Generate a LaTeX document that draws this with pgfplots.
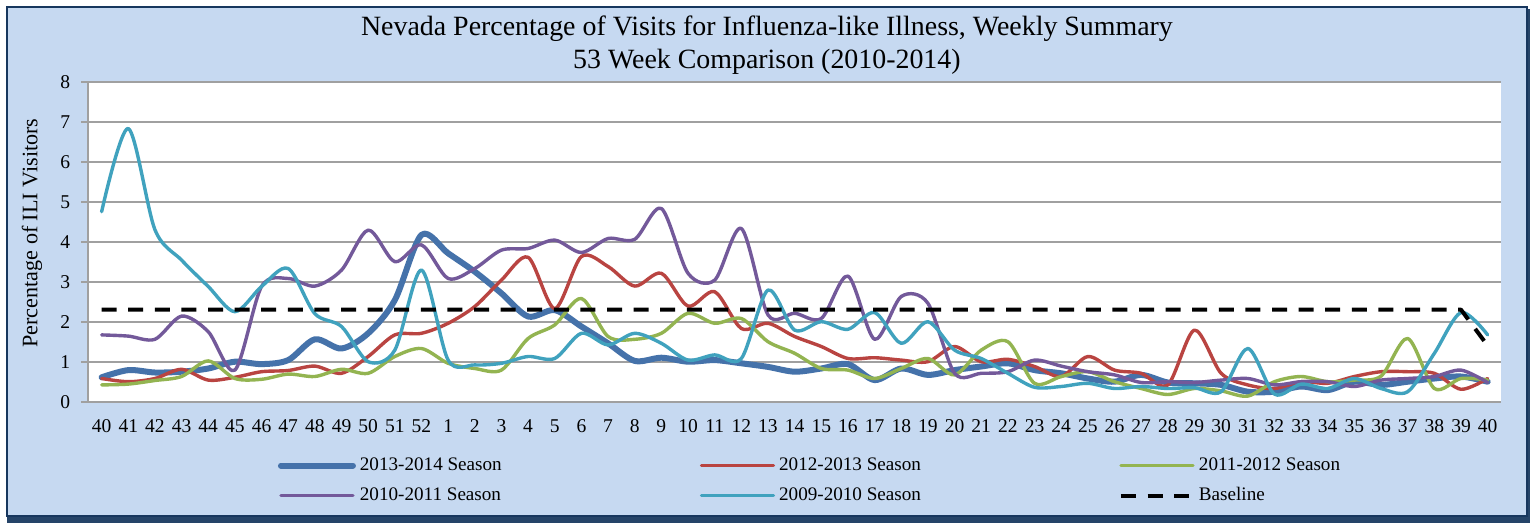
\documentclass[border=0pt]{standalone}
\usepackage{fontspec}
\setmainfont{Liberation Serif}
\usepackage{pgfplots}
\usepackage{pgfplotstable}
\pgfplotsset{compat=1.18}
\definecolor{cBlue}{HTML}{4572AA}
\definecolor{cRed}{HTML}{B94441}
\definecolor{cGreen}{HTML}{93B451}
\definecolor{cPurple}{HTML}{73599A}
\definecolor{cTeal}{HTML}{40A2BE}
\definecolor{bgBlue}{HTML}{C6D9F1}
\definecolor{frameNavy}{HTML}{17375E}
\definecolor{shadowNavy}{HTML}{254468}
\definecolor{gridGray}{HTML}{A0A0A0}

\pgfplotstableread{
x blue red green purple teal base
0  0.61 0.58 0.42 1.67 4.75 2.3
1  0.79 0.50 0.44 1.64 6.83 2.3
2  0.73 0.58 0.53 1.56 4.30 2.3
3  0.75 0.81 0.63 2.14 3.54 2.3
4  0.83 0.54 1.02 1.75 2.88 2.3
5  1.00 0.61 0.58 0.79 2.25 2.3
6  0.94 0.75 0.56 2.88 2.88 2.3
7  1.04 0.78 0.69 3.08 3.33 2.3
8  1.56 0.89 0.63 2.89 2.20 2.3
9  1.33 0.71 0.81 3.29 1.88 2.3
10 1.71 1.13 0.71 4.29 1.00 2.3
11 2.54 1.67 1.13 3.50 1.29 2.3
12 4.17 1.71 1.33 3.92 3.29 2.3
13 3.71 1.96 0.96 3.08 1.04 2.3
14 3.25 2.38 0.83 3.33 0.92 2.3
15 2.71 3.04 0.79 3.79 0.96 2.3
16 2.13 3.61 1.58 3.83 1.13 2.3
17 2.29 2.33 1.92 4.04 1.08 2.3
18 1.88 3.63 2.58 3.73 1.71 2.3
19 1.46 3.38 1.63 4.08 1.42 2.3
20 1.02 2.89 1.56 4.06 1.71 2.3
21 1.10 3.21 1.71 4.83 1.46 2.3
22 1.00 2.39 2.21 3.21 1.04 2.3
23 1.04 2.75 1.96 3.04 1.17 2.3
24 0.96 1.83 2.08 4.33 1.08 2.3
25 0.87 1.96 1.50 2.17 2.79 2.3
26 0.75 1.63 1.21 2.21 1.79 2.3
27 0.83 1.38 0.83 2.08 2.00 2.3
28 0.94 1.08 0.79 3.14 1.81 2.3
29 0.54 1.10 0.58 1.56 2.23 2.3
30 0.83 1.04 0.83 2.63 1.46 2.3
31 0.67 1.00 1.08 2.46 2.00 2.3
32 0.79 1.38 0.67 0.71 1.29 2.3
33 0.88 1.00 1.29 0.71 1.08 2.3
34 0.96 1.06 1.50 0.75 0.71 2.3
35 0.79 0.88 0.46 1.04 0.36 2.3
36 0.71 0.63 0.63 0.89 0.38 2.3
37 0.58 1.13 0.75 0.75 0.46 2.3
38 0.50 0.79 0.50 0.67 0.33 2.3
39 0.67 0.71 0.33 0.48 0.38 2.3
40 0.48 0.42 0.18 0.50 0.33 2.3
41 0.46 1.79 0.33 0.48 0.35 2.3
42 0.42 0.71 0.27 0.54 0.25 2.3
43 0.25 0.42 0.14 0.58 1.33 2.3
44 0.25 0.33 0.50 0.42 0.19 2.3
45 0.38 0.50 0.63 0.50 0.44 2.3
46 0.29 0.46 0.50 0.50 0.33 2.3
47 0.50 0.63 0.54 0.38 0.58 2.3
48 0.42 0.75 0.64 0.54 0.33 2.3
49 0.50 0.75 1.58 0.58 0.25 2.3
50 0.58 0.71 0.33 0.63 1.21 2.3
51 0.63 0.31 0.58 0.79 2.23 2.3
52 0.50 0.58 0.54 0.48 1.67 1.4
}\data

\begin{document}
\begin{tikzpicture}
\useasboundingbox (-44.15bp,-60.65bp) rectangle (722.35bp,200.85bp);
\fill[shadowNavy] (-40.65bp,-60.4bp) rectangle (720.6bp,196.5bp);
\fill[bgBlue] (-40.65bp,-57.15bp) rectangle (719.35bp,197.35bp);
\draw[frameNavy, line width=1.2bp] (-40.65bp,-57.15bp) rectangle (719.35bp,197.35bp);
\begin{axis}[
  at={(0,0)}, anchor=south west,
  scale only axis, width=706.35bp, height=160bp,
  xmin=-0.5, xmax=52.5, ymin=0, ymax=8,
  xtick={0,...,52},
  xticklabels={40,41,42,43,44,45,46,47,48,49,50,51,52,1,2,3,4,5,6,7,8,9,10,11,12,13,14,15,16,17,18,19,20,21,22,23,24,25,26,27,28,29,30,31,32,33,34,35,36,37,38,39,40},
  ytick={0,...,8},
  /pgf/number format/assume math mode=true,
  axis background/.style={fill=white},
  ymajorgrids, grid style={gridGray, line width=0.9bp},
  axis x line*=bottom, axis y line*=left,
  axis line style={gridGray, line width=0.9bp},
  tick align=outside, major tick length=3.5bp,
  xtick style={draw=none}, ytick style={gridGray, line width=0.9bp},
  ticklabel style={font=\fontsize{9.8}{11}\selectfont},
  xticklabel style={yshift=-2bp},
  yticklabel style={xshift=-2bp},
  every axis y label/.style={at={(axis description cs:-0.03985,0.527)}, rotate=90, anchor=center, font=\fontsize{11.1}{13}\selectfont},
  ylabel={Percentage of ILI Visitors},
  title style={at={(axis description cs:0.4804,1)}, anchor=center, yshift=12.1bp, align=center, font=\fontsize{14}{16.5}\selectfont},
  title={Nevada Percentage of Visits for Influenza-like Illness, Weekly Summary\\53 Week Comparison (2010-2014)},
  legend columns=3,
  legend cell align=left,
  legend image code/.code={\draw[#1] (0bp,0bp) -- (36bp,0bp);},
  legend style={at={(axis description cs:0.5116,-0.2468)}, anchor=center, draw=none, fill=none,
    font=\fontsize{9.6}{11}\selectfont, row sep=3bp,
    /tikz/every even column/.append style={column sep=97bp}},
  every axis plot/.append style={smooth, tension=0.5, line cap=round, line join=round, mark=none},
]
\addplot[cBlue, line width=3bp] table[x=x, y=blue] {\data};
\addlegendentry{2013-2014 Season}
\addplot[cRed, line width=1.7bp] table[x=x, y=red] {\data};
\addlegendentry{2012-2013 Season}
\addplot[cGreen, line width=1.7bp] table[x=x, y=green] {\data};
\addlegendentry{2011-2012 Season}
\addplot[cPurple, line width=1.7bp] table[x=x, y=purple] {\data};
\addlegendentry{2010-2011 Season}
\addplot[cTeal, line width=1.7bp] table[x=x, y=teal] {\data};
\addlegendentry{2009-2010 Season}
\addplot[black, line width=2bp, line cap=butt, sharp plot, dash pattern=on 7.5bp off 5.8bp] table[x=x, y=base] {\data};
\addlegendentry{Baseline}
\end{axis}
\end{tikzpicture}
\end{document}
